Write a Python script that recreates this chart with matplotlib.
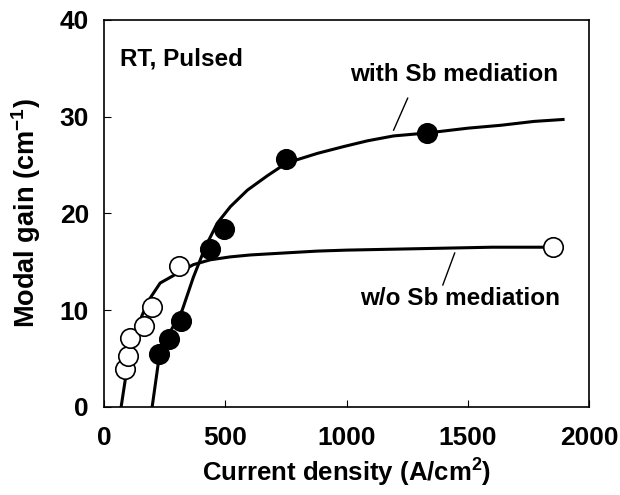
import matplotlib
matplotlib.use("Agg")
import matplotlib.pyplot as plt

plt.rcParams["font.family"] = ["Liberation Sans", "DejaVu Sans"]
plt.rcParams["font.weight"] = "bold"
plt.rcParams["mathtext.fontset"] = "custom"
plt.rcParams["mathtext.rm"] = "Liberation Sans:bold"
plt.rcParams["mathtext.bf"] = "Liberation Sans:bold"
plt.rcParams["mathtext.it"] = "Liberation Sans:bold"

# measured points, with Sb mediation (filled)
sb_j = [227, 269, 318, 438, 496, 752, 1331]
sb_g = [5.5, 7.0, 8.9, 16.3, 18.4, 25.6, 28.3]

# measured points, without Sb (open)
nosb_j = [87, 99, 107, 165, 198, 310, 1851]
nosb_g = [3.9, 5.3, 7.1, 8.4, 10.3, 14.6, 16.5]

# fitted curves
sb_fit_j = [198, 231, 322, 368, 417, 467, 521, 591, 674, 752, 880, 988,
            1087, 1194, 1331, 1500, 1636, 1773, 1893]
sb_fit_g = [0, 5.9, 10.0, 13.4, 16.5, 19.0, 20.7, 22.4, 23.9, 25.2, 26.2, 26.9,
            27.5, 28.0, 28.3, 28.8, 29.1, 29.5, 29.7]

nosb_fit_j = [70, 87, 100, 130, 157, 186, 231, 302, 368, 438, 520, 603,
              740, 880, 1000, 1200, 1400, 1600, 1890]
nosb_fit_g = [0, 2.8, 5.0, 7.6, 9.5, 11.1, 12.8, 13.8, 14.7, 15.2, 15.5, 15.7,
              15.9, 16.1, 16.2, 16.3, 16.4, 16.5, 16.5]

fig = plt.figure(figsize=(6.2, 4.95), dpi=100)
ax = fig.add_axes([0.168, 0.178, 0.782, 0.782])

ax.plot(sb_fit_j, sb_fit_g, color="black", lw=2.2, zorder=2)
ax.plot(nosb_fit_j, nosb_fit_g, color="black", lw=2.2, zorder=2)
ax.plot(sb_j, sb_g, "o", ms=14, mfc="black", mec="black", mew=1.2, zorder=3)
ax.plot(nosb_j, nosb_g, "o", ms=14, mfc="white", mec="black", mew=1.2, zorder=3)

ax.set_xlim(0, 2000)
ax.set_ylim(0, 40)
ax.set_xticks([0, 500, 1000, 1500, 2000])
ax.set_yticks([0, 10, 20, 30, 40])
ax.tick_params(direction="in", length=5, width=0.8, labelsize=19)
ax.tick_params(axis="x", pad=14)
ax.tick_params(axis="y", pad=11)
for s in ax.spines.values():
    s.set_linewidth(1.2)

ax.set_xlabel("Current density (A/cm$^{2}$)", fontsize=18.5, fontweight="bold", labelpad=5)
ax.set_ylabel("Modal gain (cm$^{-1}$)", fontsize=19.5, fontweight="bold", labelpad=12)

ax.text(66, 36.0, "RT, Pulsed", fontsize=17.5, fontweight="bold", va="center")
ax.text(1442, 34.3, "with Sb mediation", fontsize=17.5, fontweight="bold",
        ha="center", va="center")
ax.plot([1252, 1194], [31.9, 28.6], color="black", lw=1)
ax.text(1467, 11.2, "w/o Sb mediation", fontsize=17.5, fontweight="bold",
        ha="center", va="center")
ax.plot([1446, 1397], [15.9, 12.6], color="black", lw=1)

fig.savefig("out.png", dpi=100)
